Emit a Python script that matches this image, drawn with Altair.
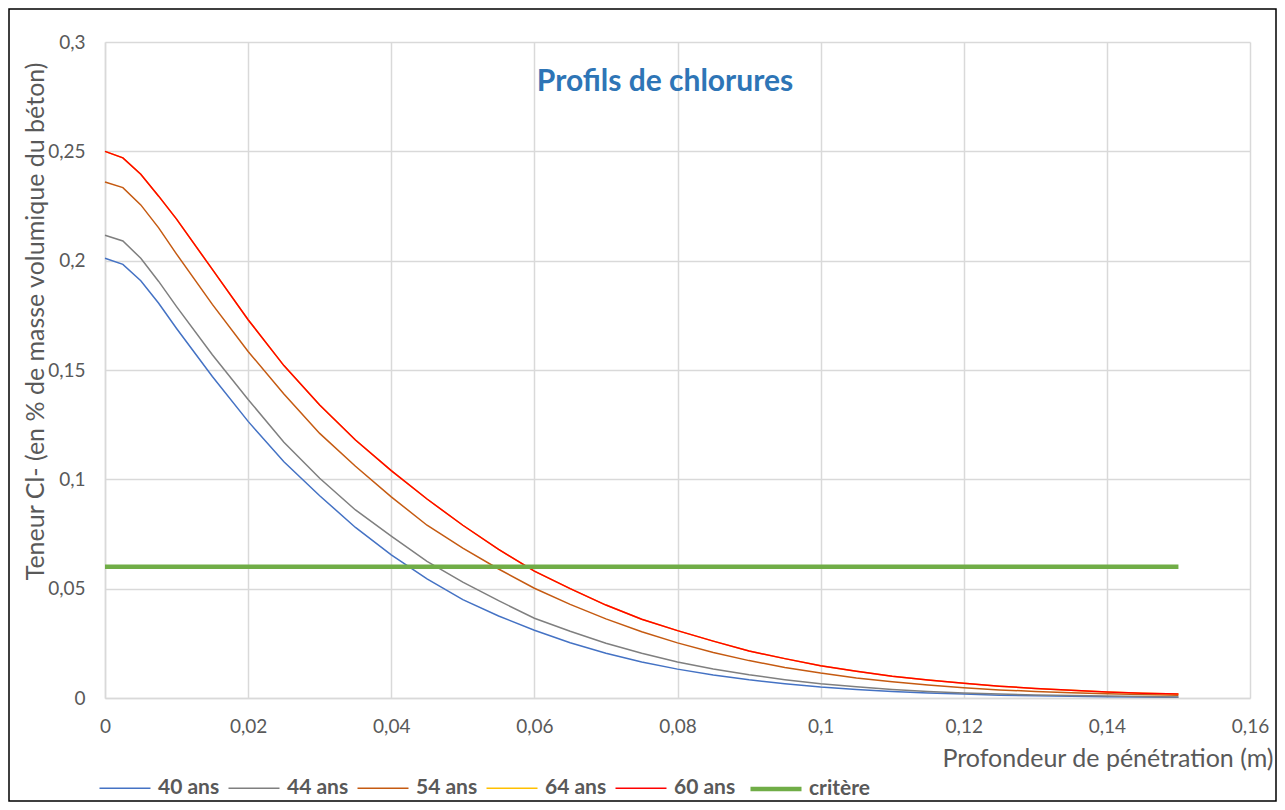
import altair as alt
import pandas as pd

# ---- data ----
depth_m = [0, 0.0025, 0.005, 0.0075, 0.01, 0.015, 0.02, 0.025, 0.03, 0.035, 0.04,
           0.045, 0.05, 0.055, 0.06, 0.065, 0.07, 0.075, 0.08, 0.085, 0.09, 0.095,
           0.1, 0.105, 0.11, 0.115, 0.12, 0.125, 0.13, 0.135, 0.14, 0.145, 0.15]

ans40 = [0.2011, 0.1983, 0.1908, 0.1805, 0.169, 0.147, 0.1265, 0.108, 0.0925, 0.078, 0.0655,
         0.0545, 0.045, 0.0375, 0.031, 0.0253, 0.0205, 0.0165, 0.0132, 0.0105, 0.0083, 0.0065,
         0.0050, 0.0039, 0.0030, 0.0023, 0.0018, 0.0013, 0.0010, 0.0008, 0.0006, 0.0004, 0.0003]

ans44 = [0.2116, 0.209, 0.2011, 0.1905, 0.179, 0.157, 0.1365, 0.117, 0.1005, 0.086, 0.074,
         0.0625, 0.053, 0.0445, 0.0365, 0.0305, 0.025, 0.0205, 0.0165, 0.0133, 0.0106, 0.0084,
         0.0065, 0.0051, 0.0039, 0.0030, 0.0023, 0.0018, 0.0014, 0.0011, 0.0009, 0.0007, 0.0005]

ans54 = [0.236, 0.2334, 0.2255, 0.215, 0.203, 0.180, 0.1585, 0.139, 0.121, 0.106, 0.092,
         0.079, 0.0685, 0.059, 0.0502, 0.0428, 0.0362, 0.0303, 0.0252, 0.0208, 0.0171, 0.0140,
         0.0114, 0.0092, 0.0074, 0.0059, 0.0047, 0.0037, 0.0030, 0.0024, 0.0019, 0.0016, 0.0013]

# 64 ans is not visible in the picture: it lies beneath the 60 ans curve
ans64 = [0.250, 0.247, 0.2395, 0.2295, 0.219, 0.196, 0.173, 0.152, 0.134, 0.118, 0.104,
         0.091, 0.079, 0.068, 0.058, 0.050, 0.0425, 0.036, 0.0308, 0.026, 0.0215, 0.018,
         0.0147, 0.0122, 0.0100, 0.0082, 0.0067, 0.0054, 0.0044, 0.0035, 0.0028, 0.0022, 0.0018]

ans60 = [0.250, 0.247, 0.2395, 0.2295, 0.219, 0.196, 0.173, 0.152, 0.134, 0.118, 0.104,
         0.091, 0.079, 0.068, 0.058, 0.050, 0.0425, 0.036, 0.0308, 0.026, 0.0215, 0.018,
         0.0147, 0.0122, 0.0100, 0.0082, 0.0067, 0.0054, 0.0044, 0.0035, 0.0028, 0.0022, 0.0018]

critere_x = [0, 0.15]
critere_y = [0.06, 0.06]

series_names = ["40 ans", "44 ans", "54 ans", "64 ans", "60 ans", "critère"]
series_colors = ["#4472C4", "#7F7F7F", "#C55A11", "#FFC000", "#FF0000", "#70AD47"]
series_widths = [1.5, 1.5, 1.5, 1.5, 1.5, 4.5]

x_ticks = [0, 0.02, 0.04, 0.06, 0.08, 0.1, 0.12, 0.14, 0.16]
y_ticks = [0, 0.05, 0.1, 0.15, 0.2, 0.25, 0.3]

chart_title = "Profils de chlorures"

rows = []
for name, vals in zip(series_names[:5], [ans40, ans44, ans54, ans64, ans60]):
    for xv, yv in zip(depth_m, vals):
        rows.append({"x": xv, "y": yv, "serie": name})
for xv, yv in zip(critere_x, critere_y):
    rows.append({"x": xv, "y": yv, "serie": "critère"})
df = pd.DataFrame(rows)

FONT = "Lato"
GREY = "#595959"
GRID = "#D9D9D9"

x_enc = alt.X(
    "x:Q",
    scale=alt.Scale(domain=[0, 0.16], nice=False, zero=False),
    axis=alt.Axis(
        values=x_ticks,
        labelExpr="replace(format(datum.value, '~g'), '.', ',')",
        labelFlush=False,
        title="Profondeur de pénétration (m)",
        titleAnchor="end",
        titleAlign="right",
        titleBaseline="alphabetic",
        titleX=1168,
        titleY=68,
        labelPadding=19,
    ),
)
y_enc = alt.Y(
    "y:Q",
    scale=alt.Scale(domain=[0, 0.3], nice=False),
    axis=alt.Axis(
        values=y_ticks,
        labelExpr="replace(format(datum.value, '~g'), '.', ',')",
        labelFlush=False,
        title="Teneur Cl- (en % de masse volumique du béton)",
        titleAngle=-90,
        titleAlign="right",
        titleBaseline="alphabetic",
        titleX=-62,
        titleY=20,
        labelPadding=20,
    ),
)

legend_def = alt.Legend(
    orient="none",
    legendX=-8,
    legendY=719,
    direction="horizontal",
    columns=6,
    symbolType="stroke",
    symbolSize=2601,
    labelFontSize=21,
    labelFontWeight="bold",
    labelColor=GREY,
    labelFont=FONT,
    labelOffset=5,
    columnPadding=5,
    title=None,
)
color_enc = alt.Color(
    "serie:N",
    scale=alt.Scale(domain=series_names, range=series_colors),
    title=None,
    legend=legend_def,
)
width_enc = alt.StrokeWidth(
    "serie:N",
    scale=alt.Scale(type="ordinal", domain=series_names, range=series_widths),
    title=None,
    legend=legend_def,
)

base = alt.Chart(df)
layers = []
for name in series_names:
    layers.append(
        base.transform_filter(alt.datum.serie == name)
        .mark_line(clip=False)
        .encode(x=x_enc, y=y_enc, color=color_enc, strokeWidth=width_enc)
    )

title_mark = alt.Chart(pd.DataFrame({"t": [chart_title]})).mark_text(
    font=FONT, fontSize=30, fontWeight="bold", color="#2E75B6",
    align="center", baseline="alphabetic"
).encode(text="t:N", x=alt.value(560), y=alt.value(49))

frame = alt.Chart(pd.DataFrame({"f": [0]})).mark_rect(
    fill=None, fillOpacity=0, stroke="#000000", strokeWidth=1.5
).encode(
    x=alt.value(-96), x2=alt.value(1171), y=alt.value(-33), y2=alt.value(759)
)

chart = alt.layer(*layers, title_mark, frame).properties(
    width=1145,
    height=656,
    background="white",
    padding={"left": 97, "top": 34, "right": 27, "bottom": 104},
    autosize=alt.AutoSizeParams(type="none"),
).configure_axis(
    grid=True,
    gridColor=GRID,
    gridWidth=1.5,
    domainColor=GRID,
    domainWidth=1.5,
    ticks=False,
    labelFont=FONT,
    labelFontSize=19,
    labelColor=GREY,
    titleFont=FONT,
    titleFontSize=25,
    titleFontWeight="normal",
    titleColor=GREY,
).configure_view(stroke=None)

chart.save("out.html", embed_options={"renderer": "svg", "actions": False})
